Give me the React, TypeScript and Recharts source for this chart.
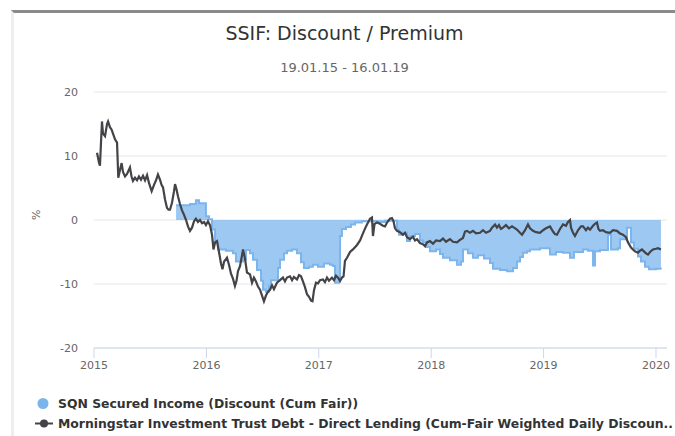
import {
	Area,
	CartesianGrid,
	ComposedChart,
	Line,
	XAxis,
	YAxis,
} from "recharts";

// decimal years
const lineYears = [
	2015.027, 2015.044, 2015.053, 2015.062, 2015.071, 2015.08, 2015.098, 2015.116,
	2015.125, 2015.142, 2015.157, 2015.169, 2015.187, 2015.205, 2015.216, 2015.231,
	2015.246, 2015.258, 2015.276, 2015.294, 2015.32, 2015.334, 2015.347, 2015.365,
	2015.383, 2015.4, 2015.418, 2015.436, 2015.454, 2015.472, 2015.489, 2015.513,
	2015.534, 2015.552, 2015.569, 2015.587, 2015.601, 2015.614, 2015.632, 2015.649,
	2015.663, 2015.676, 2015.694, 2015.712, 2015.721, 2015.734, 2015.747, 2015.765,
	2015.783, 2015.801, 2015.819, 2015.836, 2015.854, 2015.872, 2015.89, 2015.907,
	2015.925, 2015.943, 2015.961, 2015.979, 2015.996, 2016.014, 2016.032, 2016.05,
	2016.063, 2016.077, 2016.094, 2016.112, 2016.13, 2016.143, 2016.157, 2016.183,
	2016.201, 2016.219, 2016.237, 2016.254, 2016.268, 2016.281, 2016.299, 2016.317,
	2016.326, 2016.343, 2016.361, 2016.388, 2016.406, 2016.423, 2016.441, 2016.459,
	2016.477, 2016.495, 2016.512, 2016.53, 2016.548, 2016.566, 2016.584, 2016.601,
	2016.628, 2016.655, 2016.681, 2016.699, 2016.717, 2016.744, 2016.762, 2016.779,
	2016.806, 2016.824, 2016.842, 2016.859, 2016.877, 2016.895, 2016.913, 2016.931,
	2016.944, 2016.957, 2016.975, 2016.993, 2017.011, 2017.037, 2017.055, 2017.073,
	2017.091, 2017.117, 2017.135, 2017.153, 2017.171, 2017.189, 2017.206, 2017.22,
	2017.233, 2017.251, 2017.278, 2017.304, 2017.34, 2017.367, 2017.393, 2017.42,
	2017.438, 2017.456, 2017.473, 2017.482, 2017.496, 2017.518, 2017.544, 2017.571,
	2017.589, 2017.607, 2017.633, 2017.651, 2017.665, 2017.678, 2017.696, 2017.722,
	2017.749, 2017.767, 2017.785, 2017.811, 2017.838, 2017.856, 2017.874, 2017.9,
	2017.927, 2017.945, 2017.963, 2017.989, 2018.016, 2018.043, 2018.078, 2018.105,
	2018.132, 2018.167, 2018.194, 2018.23, 2018.256, 2018.283, 2018.301, 2018.319,
	2018.345, 2018.372, 2018.399, 2018.434, 2018.461, 2018.488, 2018.523, 2018.541,
	2018.568, 2018.585, 2018.603, 2018.621, 2018.639, 2018.665, 2018.692, 2018.719,
	2018.737, 2018.763, 2018.79, 2018.808, 2018.835, 2018.861, 2018.879, 2018.906,
	2018.932, 2018.968, 2018.995, 2019.021, 2019.057, 2019.084, 2019.101, 2019.119,
	2019.146, 2019.173, 2019.199, 2019.217, 2019.235, 2019.244, 2019.262, 2019.279,
	2019.306, 2019.333, 2019.351, 2019.377, 2019.395, 2019.413, 2019.44, 2019.457,
	2019.475, 2019.488, 2019.502, 2019.528, 2019.555, 2019.591, 2019.617, 2019.653,
	2019.68, 2019.706, 2019.733, 2019.751, 2019.778, 2019.795, 2019.813, 2019.84,
	2019.858, 2019.875, 2019.893, 2019.911, 2019.929, 2019.947, 2019.973, 2020.0,
	2020.018, 2020.044,
];

const morningstarValues = [
	10.5, 9.0, 8.5, 12.0, 15.4, 13.5, 13.1, 15.0,
	15.4, 14.5, 14.1, 13.5, 12.6, 12.1, 6.6, 7.8,
	8.9, 7.5, 6.8, 7.2, 8.2, 6.8, 6.1, 6.6,
	6.2, 6.8, 6.3, 6.9, 6.2, 7.0, 5.8, 4.5,
	5.5, 6.2, 7.1, 6.3, 5.5, 5.1, 3.2, 1.9,
	1.6, 1.6, 2.7, 4.5, 5.6, 4.8, 3.7, 2.5,
	1.5, 0.8, 0.0, -1.0, -1.7, -1.2, -0.2, 0.2,
	-0.3, 0.0, -0.5, -0.3, -0.8, -0.2, -0.8, -2.3,
	-4.6, -3.5, -3.3, -5.0, -6.8, -7.7, -6.5, -5.9,
	-7.0, -8.4, -9.2, -10.3, -9.5, -8.0, -7.2, -5.5,
	-4.6, -6.0, -8.2, -8.5, -9.8, -9.0, -9.6, -10.4,
	-10.9, -11.8, -12.7, -11.8, -11.2, -10.9, -10.2, -10.8,
	-9.8, -9.4, -9.0, -9.6, -9.0, -8.8, -9.4, -8.9,
	-9.3, -8.6, -8.8, -9.6, -10.5, -11.6, -12.0, -12.6,
	-12.7, -11.0, -9.8, -9.9, -9.4, -9.3, -9.7, -9.0,
	-9.5, -9.0, -9.4, -8.7, -9.0, -9.5, -9.0, -8.8,
	-6.4, -5.9, -5.0, -4.6, -3.9, -3.2, -2.1, -1.0,
	-0.4, 0.2, 0.4, -2.5, -0.6, -0.4, -0.6, -0.9,
	-1.0, -0.4, 0.2, 0.3, -0.2, -1.3, -1.7, -1.9,
	-2.3, -2.0, -2.7, -3.0, -2.6, -3.2, -3.0, -3.6,
	-3.8, -4.1, -3.5, -3.3, -3.7, -3.2, -3.3, -2.9,
	-3.4, -3.0, -3.4, -3.5, -3.1, -2.8, -1.8, -1.7,
	-2.0, -1.7, -2.1, -2.0, -1.6, -2.0, -1.7, -1.2,
	-0.7, -1.2, -0.8, -1.4, -1.2, -0.8, -1.3, -1.0,
	-1.2, -1.5, -2.0, -2.3, -1.6, -0.7, -1.3, -1.7,
	-1.9, -2.0, -1.6, -1.3, -1.0, -1.8, -2.2, -2.3,
	-1.4, -0.7, -0.9, -0.3, 0.0, -1.2, -2.0, -2.5,
	-1.6, -1.0, -1.0, -1.6, -1.2, -1.5, -0.9, -0.6,
	-0.4, -1.4, -1.7, -1.6, -1.9, -2.0, -1.6, -1.7,
	-2.1, -2.3, -2.7, -3.5, -4.3, -4.6, -4.9, -5.1,
	-4.8, -4.6, -4.9, -5.2, -5.4, -5.0, -4.6, -4.5,
	-4.4, -4.6,
];

const areaYears = [
	2015.73, 2015.819, 2015.854, 2015.907, 2015.934, 2015.996, 2016.023, 2016.05,
	2016.077, 2016.103, 2016.174, 2016.237, 2016.263, 2016.326, 2016.352, 2016.388,
	2016.415, 2016.45, 2016.486, 2016.504, 2016.53, 2016.557, 2016.575, 2016.637,
	2016.655, 2016.69, 2016.717, 2016.762, 2016.806, 2016.842, 2016.868, 2016.913,
	2016.948, 2016.993, 2017.046, 2017.1, 2017.126, 2017.144, 2017.18, 2017.189,
	2017.206, 2017.242, 2017.286, 2017.322, 2017.384, 2017.527, 2017.589, 2017.696,
	2017.714, 2017.749, 2017.785, 2017.811, 2017.856, 2017.9, 2017.927, 2017.954,
	2017.989, 2018.043, 2018.078, 2018.105, 2018.167, 2018.23, 2018.265, 2018.283,
	2018.327, 2018.372, 2018.416, 2018.47, 2018.523, 2018.55, 2018.612, 2018.674,
	2018.728, 2018.763, 2018.79, 2018.817, 2018.852, 2018.879, 2018.968, 2019.057,
	2019.11, 2019.173, 2019.235, 2019.27, 2019.351, 2019.395, 2019.44, 2019.457,
	2019.502, 2019.573, 2019.6, 2019.662, 2019.68, 2019.742, 2019.778, 2019.804,
	2019.84, 2019.867, 2019.902, 2019.938, 2020.0, 2020.044,
];

const sqnValues = [
	2.3, 2.3, 2.5, 3.1, 2.6, 0.6, 0.1, -1.5,
	-3.5, -4.6, -4.8, -5.2, -6.5, -6.2, -4.7, -5.2,
	-6.2, -7.8, -9.5, -10.9, -11.2, -10.3, -9.4, -7.5,
	-6.2, -5.2, -4.8, -4.6, -5.2, -6.6, -7.5, -7.3,
	-7.0, -7.3, -6.8, -7.0, -7.2, -9.8, -9.6, -2.5,
	-1.4, -1.1, -0.7, -0.4, -0.2, -0.3, -0.1, -1.5,
	-2.3, -2.0, -3.3, -2.5, -2.2, -3.2, -3.5, -4.2,
	-4.9, -4.6, -5.3, -5.9, -6.3, -7.0, -6.5, -4.6,
	-5.2, -5.9, -5.5, -6.0, -6.7, -7.6, -7.8, -8.0,
	-7.5, -6.5, -5.8, -5.1, -4.9, -4.6, -4.4, -5.4,
	-5.0, -5.1, -5.9, -5.0, -4.6, -4.8, -7.1, -4.9,
	-4.7, -2.3, -4.6, -4.4, -3.0, -1.2, -3.5, -4.5,
	-5.7, -6.5, -7.3, -7.7, -7.6, -7.7,
];

const yearTicks = [2015, 2016, 2017, 2018, 2019, 2020];
const pctTicks = [-20, -10, 0, 10, 20];

const lineData = lineYears.map((t, i) => ({ t, ms: morningstarValues[i] }));
const areaData = areaYears.map((t, i) => ({ t, sqn: sqnValues[i] }));

const FONT = '"DejaVu Sans", Verdana, sans-serif';

export default function App() {
	return (
		<div
			style={{
				position: "absolute",
				left: 0,
				top: 0,
				width: 675,
				height: 436,
				background: "#fff",
				fontFamily: FONT,
				overflow: "hidden",
			}}
		>
			<div
				style={{
					position: "absolute",
					left: 11,
					top: 10,
					width: 664,
					height: 426,
					borderLeft: "3px solid #eeeeee",
					borderTop: "3px solid #8a8a8a",
					boxSizing: "border-box",
				}}
			/>
			<div
				style={{
					position: "absolute",
					left: 14,
					width: 661,
					top: 21,
					textAlign: "center",
					fontSize: 19,
					lineHeight: "24px",
					color: "#333333",
				}}
			>
				SSIF: Discount / Premium
			</div>
			<div
				style={{
					position: "absolute",
					left: 14,
					width: 661,
					top: 60,
					textAlign: "center",
					fontSize: 13,
					lineHeight: "16px",
					color: "#666666",
				}}
			>
				19.01.15 - 16.01.19
			</div>
			<div style={{ position: "absolute", left: 0, top: 0 }}>
				<ComposedChart
					width={675}
					height={436}
					margin={{ top: 92, right: 8, bottom: 58, left: 0 }}
				>
					<CartesianGrid
						vertical={false}
						stroke="#e6e6e6"
						strokeWidth={1}
					/>
					<XAxis
						dataKey="t"
						type="number"
						domain={[2015, 2020.098]}
						ticks={yearTicks}
						tickFormatter={(v) => String(v)}
						allowDataOverflow
						height={30}
						axisLine={{ stroke: "#ccd6eb" }}
						tickLine={{ stroke: "#ccd6eb" }}
						tickSize={10}
						tickMargin={3}
						tick={{ fill: "#666666", fontSize: 11, fontFamily: FONT }}
					/>
					<YAxis
						type="number"
						domain={[-20, 20]}
						ticks={pctTicks}
						width={94}
						axisLine={false}
						tickLine={false}
						tickSize={0}
						tickMargin={16}
						tick={{ fill: "#666666", fontSize: 11, fontFamily: FONT }}
						label={{
							value: "%",
							angle: -90,
							position: "insideLeft",
							offset: 36,
							fill: "#666666",
							fontSize: 11,
							fontFamily: FONT,
						}}
					/>
					<Area
						data={areaData}
						dataKey="sqn"
						type="stepAfter"
						baseValue={0}
						stroke="#7cb5ec"
						strokeWidth={2}
						fill="#7cb5ec"
						fillOpacity={0.75}
						dot={false}
						activeDot={false}
						isAnimationActive={false}
					/>
					<Line
						data={lineData}
						dataKey="ms"
						type="linear"
						stroke="#434348"
						strokeWidth={2.2}
						dot={false}
						activeDot={false}
						isAnimationActive={false}
					/>
				</ComposedChart>
			</div>
			<div
				style={{
					position: "absolute",
					left: 0,
					top: 394,
					width: 675,
					fontSize: 12.4,
					fontWeight: "bold",
					color: "#333333",
				}}
			>
				<div style={{ position: "relative", height: 19 }}>
					<svg
						width={20}
						height={19}
						style={{ position: "absolute", left: 34, top: 0 }}
					>
						<circle cx={9} cy={9.5} r={5.5} fill="#7cb5ec" />
					</svg>
					<span
						style={{
							position: "absolute",
							left: 58,
							top: 0,
							lineHeight: "19px",
							whiteSpace: "nowrap",
						}}
					>
						SQN Secured Income (Discount (Cum Fair))
					</span>
				</div>
				<div style={{ position: "relative", height: 19, marginTop: 1 }}>
					<svg
						width={22}
						height={19}
						style={{ position: "absolute", left: 33, top: 0 }}
					>
						<line
							x1={2}
							x2={20}
							y1={9.5}
							y2={9.5}
							stroke="#434348"
							strokeWidth={2}
						/>
						<circle cx={11} cy={9.5} r={4} fill="#434348" />
					</svg>
					<span
						style={{
							position: "absolute",
							left: 58,
							top: 0,
							lineHeight: "19px",
							whiteSpace: "nowrap",
						}}
					>
						Morningstar Investment Trust Debt - Direct Lending (Cum-Fair
						Weighted Daily Discoun..
					</span>
				</div>
			</div>
		</div>
	);
}
